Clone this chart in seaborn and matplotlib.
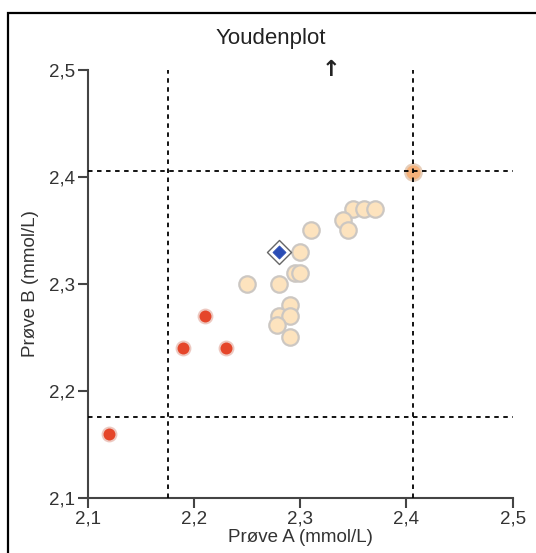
import pandas as pd
import seaborn as sns
import matplotlib.pyplot as plt
from matplotlib.patches import Rectangle

# Youden plot data (Prøve A, Prøve B)
within_a = [2.35, 2.36, 2.37, 2.34, 2.345, 2.31, 2.30, 2.295, 2.30, 2.25, 2.28,
            2.29, 2.28, 2.29, 2.278, 2.29]
within_b = [2.37, 2.37, 2.37, 2.36, 2.35, 2.35, 2.33, 2.31, 2.31, 2.30, 2.30,
            2.28, 2.27, 2.27, 2.262, 2.25]
edge_a = [2.406]
edge_b = [2.405]
outside_a = [2.21, 2.19, 2.23, 2.12]
outside_b = [2.27, 2.24, 2.24, 2.16]
own_a = [2.28]
own_b = [2.33]
limits = [2.176, 2.406]
arrow_x = 2.329
ticks = [2.1, 2.2, 2.3, 2.4, 2.5]
tick_labels = ['2,1', '2,2', '2,3', '2,4', '2,5']

df = pd.concat([
    pd.DataFrame({'a': within_a, 'b': within_b, 'group': 'within'}),
    pd.DataFrame({'a': edge_a, 'b': edge_b, 'group': 'edge'}),
    pd.DataFrame({'a': outside_a, 'b': outside_b, 'group': 'outside'}),
    pd.DataFrame({'a': own_a, 'b': own_b, 'group': 'own'}),
])

sns.set_style("ticks")
plt.rcParams['font.family'] = ['Liberation Sans', 'DejaVu Sans']
text_col = '#333333'
axis_col = '#444444'

fig = plt.figure(figsize=(5.36, 5.53), dpi=100)
ax = fig.add_axes([0.1636, 0.0995, 0.9565 - 0.1636, 0.8734 - 0.0995])

styles = {
    'within': dict(color='#FDE3BE', edgecolor='#CCC7C2', s=140, linewidth=1.6, marker='o'),
    'edge': dict(color='#F5B17A', edgecolor='#E6CDB8', s=140, linewidth=1.6, marker='o'),
    'outside': dict(color='#E5462A', edgecolor='#EDC8C0', s=100, linewidth=1.4, marker='o'),
}
for g, st in styles.items():
    sns.scatterplot(data=df[df['group'] == g], x='a', y='b', ax=ax, zorder=2, **st)

own = df[df['group'] == 'own']
sns.scatterplot(data=own, x='a', y='b', ax=ax, marker='D', s=150, color='white',
                edgecolor='#666666', linewidth=1.0, zorder=3)
sns.scatterplot(data=own, x='a', y='b', ax=ax, marker='D', s=45, color='#2B4DB5',
                edgecolor='#2B4DB5', linewidth=0.5, zorder=4)

for v in limits:
    ax.axvline(v, color='black', linestyle=(0, (2.5, 2.5)), linewidth=1.3, zorder=5)
    ax.axhline(v, color='black', linestyle=(0, (2.5, 2.5)), linewidth=1.3, zorder=5)

ax.text(arrow_x, 2.5, '↑', ha='center', va='center', fontsize=16, fontweight='bold',
        family='DejaVu Sans', color='#222222')

ax.set_xlim(2.1, 2.5)
ax.set_ylim(2.1, 2.5)
ax.set_xticks(ticks)
ax.set_yticks(ticks)
ax.set_xticklabels(tick_labels)
ax.set_yticklabels(tick_labels)
sns.despine(ax=ax)
for sp in ['left', 'bottom']:
    ax.spines[sp].set_color(axis_col)
    ax.spines[sp].set_linewidth(1.5)
ax.tick_params(length=7, width=1.5, color=axis_col, labelsize=13.5, labelcolor=text_col, pad=2)

ax.set_xlabel('Prøve A (mmol/L)', fontsize=13.5, color=text_col, labelpad=1)
ax.set_ylabel('Prøve B (mmol/L)', fontsize=13.5, color=text_col, labelpad=7)
fig.text(0.505, 0.93, 'Youdenplot', ha='center', va='center', fontsize=16, color='#222222')

# black frame around the figure (runs off right and bottom)
fig.patches.append(Rectangle((8.3 / 536, -0.1), 1.2, 1 - 13.3 / 553 + 0.1,
                             transform=fig.transFigure, fill=False,
                             edgecolor='black', linewidth=1.6))

fig.savefig('out.png', dpi=100)
